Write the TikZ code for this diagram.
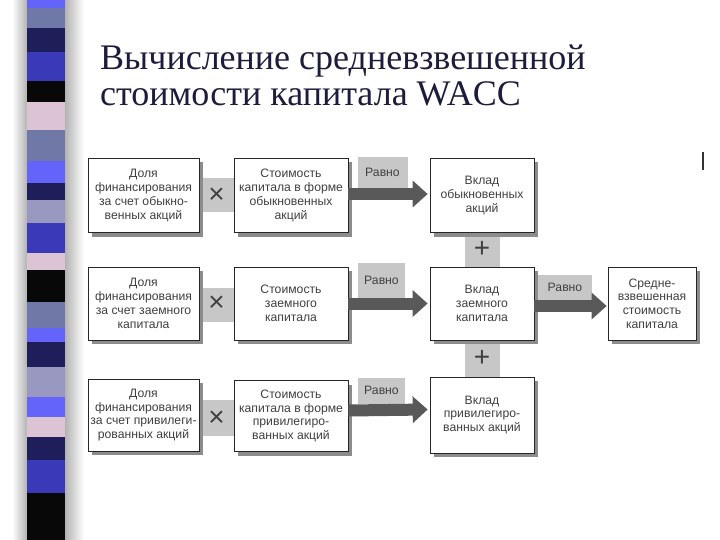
\documentclass[tikz,border=0pt]{standalone}
\usepackage{fontspec}
\setmainfont{Liberation Sans}
\newfontfamily\ttlfam{Liberation Serif}
\usetikzlibrary{shadows,arrows.meta,calc}
\definecolor{cbb}{HTML}{6464FA}
\definecolor{csl}{HTML}{7078A8}
\definecolor{cnv}{HTML}{1E1E5A}
\definecolor{cmb}{HTML}{3A3AB8}
\definecolor{cbk}{HTML}{080808}
\definecolor{cpk}{HTML}{DCC4D4}
\definecolor{clv}{HTML}{9898C0}
\definecolor{ctitle}{HTML}{1C1C3C}
\newcommand\bxf{\fontsize{12.2}{13.8}\selectfont}
\newcommand\symf{\fontsize{28}{28}\selectfont}
\newcommand\ttlf{\ttlfam\fontsize{36}{36}\selectfont}
\begin{document}
\begin{tikzpicture}[x=1pt,y=-1pt,
  bx/.style={draw=black!85, line width=0.7pt, fill=white, align=center, font=\bxf, text=black!75, inner sep=1pt,
    minimum height=74pt,
    drop shadow={shadow xshift=4pt, shadow yshift=-4pt, fill=black!45, opacity=1}},
  conn/.style={fill=black!22},
  lbl/.style={fill=black!22, font=\bxf, text=black!75, anchor=south, inner sep=0pt, minimum width=50pt},
  arr/.style={line width=12pt, draw=black!65, -{Triangle[length=15pt,width=26pt]}},
  sym/.style={font=\symf, text=black!75, inner sep=0pt}
]
\useasboundingbox (0,0) rectangle (720,540);
\fill[white] (0,0) rectangle (720,540);
% left decorative stripe
\shade[left color=white, right color=black!30] (12,0) rectangle (27,540);
\shade[left color=black!30, right color=white] (65,0) rectangle (84,540);
\foreach \a/\b/\c in {0/8/cbb,8/28/csl,28/52/cnv,52/81/cmb,81/102/cbk,102/130/cpk,130/161/csl,161/183/cbb,183/200/cnv,200/223/clv,223/253/cmb,253/270/cpk,270/302/cbk,302/328/csl,328/342/cbb,342/367/cnv,367/397/clv,397/417/cbb,417/437/cpk,437/460/cnv,460/493/cmb,493/540/cbk}
  \fill[\c] (27,\a) rectangle (65,\b);
% title
\node[anchor=base west, font=\ttlf, text=ctitle, inner sep=0pt] (t1) at (100,70) {Вычисление средневзвешенной};
\node[anchor=base west, font=\ttlf, text=ctitle, inner sep=0pt] (t2) at (100,106) {стоимости капитала WACC};
% small mark at right
\draw[line width=1.2pt, black!80] (703,152) -- (703,170);
% boxes (positions)
\coordinate (pA1) at (143.5,195.5);
\coordinate (pB1) at (291,195.5);
\coordinate (pC1) at (482,195.5);
\coordinate (pA2) at (143.5,303.5);
\coordinate (pB2) at (291,303.5);
\coordinate (pC2) at (482,303.5);
\coordinate (pD) at (652,303.5);
\coordinate (pA3) at (143.5,415);
\coordinate (pB3) at (291,416);
\coordinate (pC3) at (482,415);
% connector strips drawn first (behind boxes)
\path[conn] (199,178.5) rectangle (234,212.5);
\path[conn] (199,288) rectangle (234,322);
\path[conn] (199,400) rectangle (234,436);
\path[conn] (465,232) rectangle (500,267);
\path[conn] (465,340) rectangle (500,378);
% boxes
\node[bx, minimum width=111pt] (A1) at (pA1) {Доля\\финансирования\\за счет обыкно-\\венных акций};
\node[bx, minimum width=114pt] (B1) at (pB1) {Стоимость\\капитала в форме\\обыкновенных\\акций};
\node[bx, minimum width=104pt] (C1) at (pC1) {Вклад\\обыкновенных\\акций};
\node[bx, minimum width=111pt, minimum height=73pt] (A2) at (pA2) {Доля\\финансирования\\за счет заемного\\капитала};
\node[bx, minimum width=114pt, minimum height=73pt] (B2) at (pB2) {Стоимость\\заемного\\капитала};
\node[bx, minimum width=104pt, minimum height=73pt] (C2) at (pC2) {Вклад\\заемного\\капитала};
\node[bx, minimum width=88pt, minimum height=73pt] (D) at (pD) {Средне-\\взвешенная\\стоимость\\капитала};
\node[bx, minimum width=111pt, minimum height=72pt] (A3) at (pA3) {Доля\\финансирования\\за счет привилеги-\\рованных акций};
\node[bx, minimum width=114pt, minimum height=71pt] (B3) at (pB3) {Стоимость\\капитала в форме\\привилегиро-\\ванных акций};
\node[bx, minimum width=104pt, minimum height=76pt] (C3) at (pC3) {Вклад\\привилегиро-\\ванных акций};
% operation symbols
\node[sym] (m1) at ($(A1.east)!0.5!(B1.west)$) {×};
\node[sym] (m2) at ($(A2.east)!0.5!(B2.west)$) {×};
\node[sym] (m3) at ([yshift=-3pt]$(A3.east)!0.5!(B3.west)$) {×};
\node[sym] (p1) at ($(C1.south)!0.5!(C2.north)$) {+};
\node[sym] (p2) at ($(C2.south)!0.5!(C3.north)$) {+};
% "Равно" labels
\node[lbl, minimum height=31pt] (l1) at (382.5,188) {Равно};
\node[lbl, minimum height=35pt, minimum width=47pt] (l2) at (381.5,298) {Равно};
\node[lbl, minimum height=26pt, minimum width=47pt] (l3) at (381.5,404) {Равно};
\node[lbl, minimum height=25pt, minimum width=54pt] (l4) at (565,300) {Равно};
% arrows
\draw[arr] ([yshift=1.5pt]B1.east) -- ([yshift=1.5pt,xshift=-2pt]C1.west);
\draw[arr] (B2.east) -- ([xshift=-2pt]C2.west);
\draw[arr] ([yshift=5.5pt]B3.east) -- ([yshift=5.5pt,xshift=-2pt]C3.west);
\draw[arr] ([yshift=-2.5pt]C2.east) -- ([yshift=-2.5pt,xshift=-1pt]D.west);
\end{tikzpicture}
\end{document}
